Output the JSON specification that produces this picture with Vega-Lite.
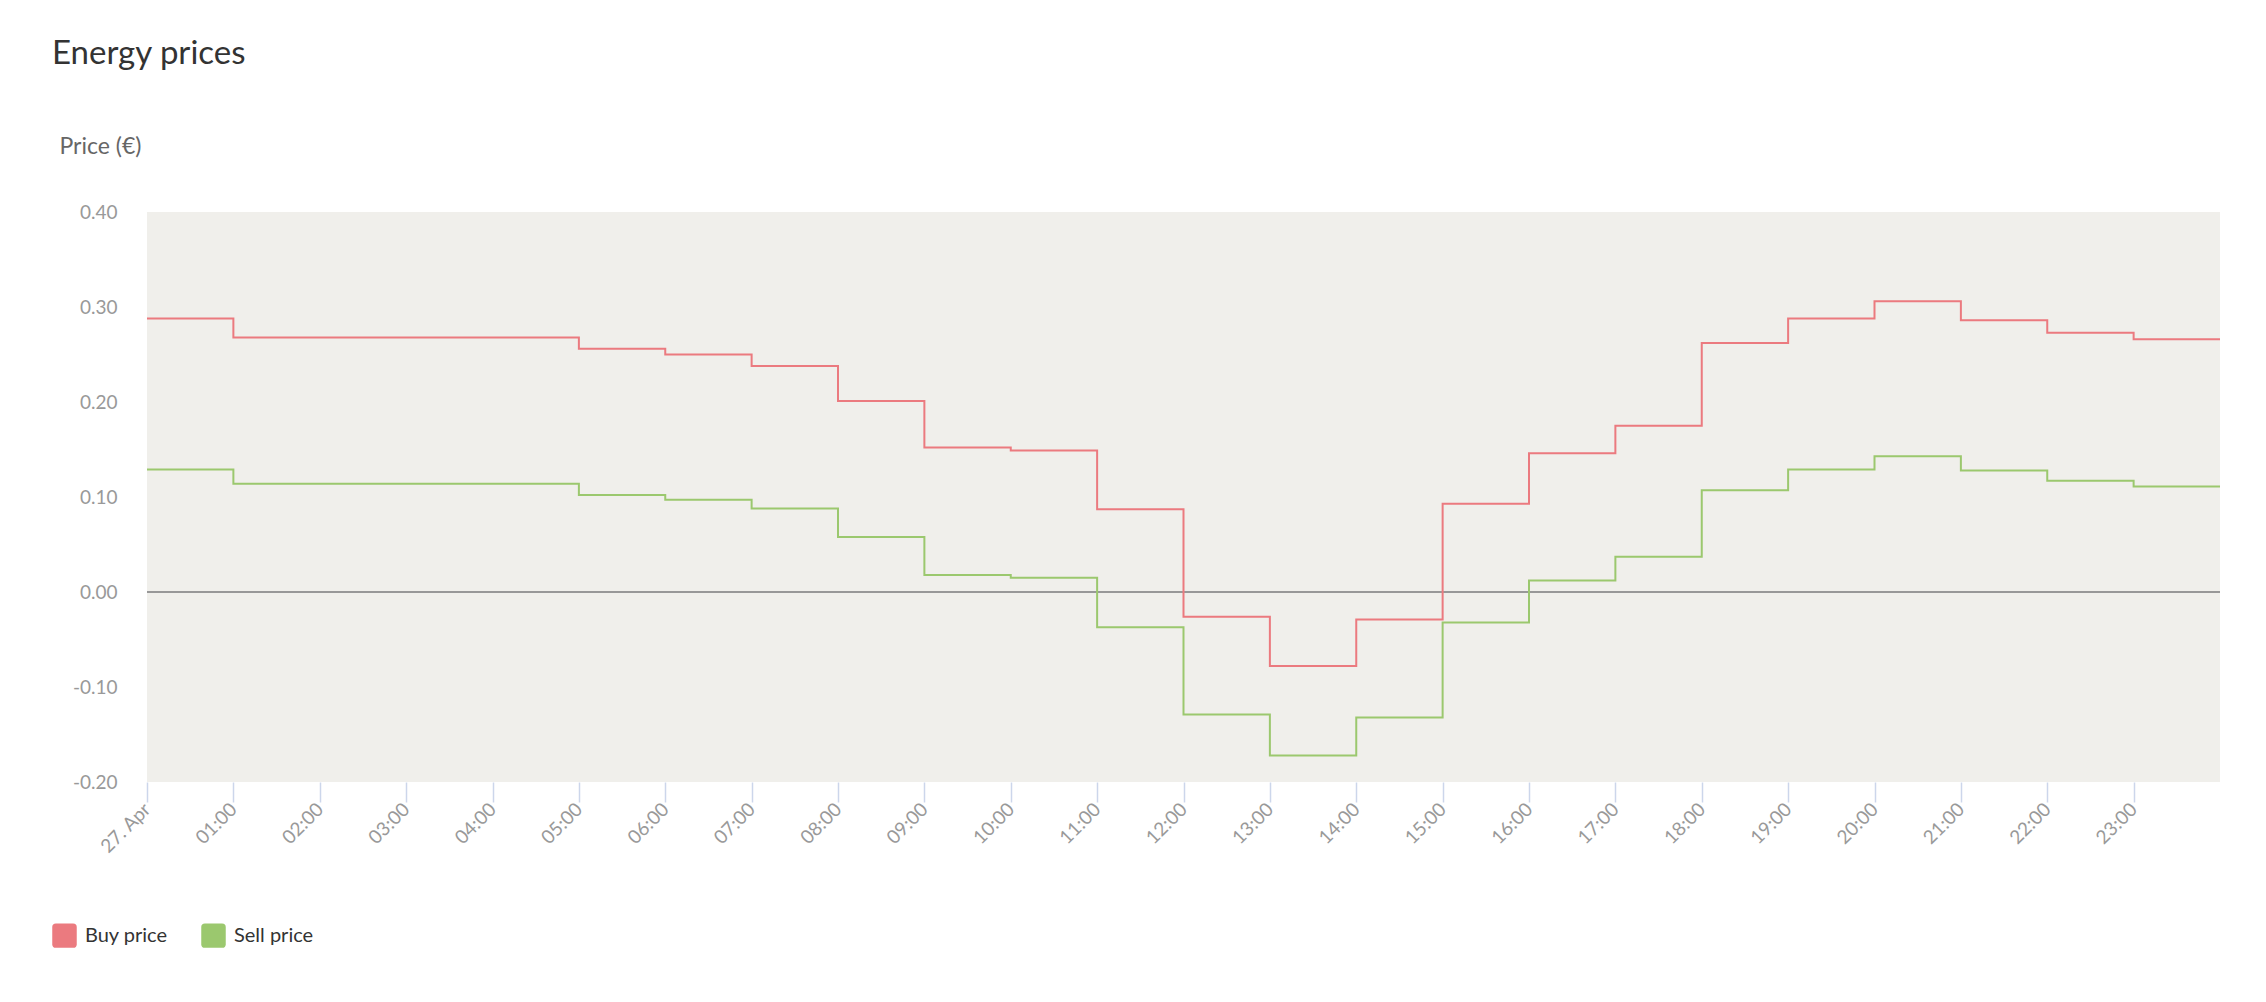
{
  "$schema": "https://vega.github.io/schema/vega-lite/v6.json",
  "autosize": {"type": "none"},
  "padding": {"left": 147, "top": 212, "right": 46, "bottom": 220},
  "width": 2073,
  "height": 570,
  "background": "#ffffff",
  "config": {
    "font": "Lato",
    "view": {"fill": "#f0efeb", "stroke": null}
  },
  "title": {
    "text": "Energy prices",
    "anchor": "start",
    "frame": "bounds",
    "fontSize": 33,
    "fontWeight": "normal",
    "color": "#333333",
    "font": "Lato",
    "offset": 64
  },
  "data": {
    "values": [
      {"hour": 0, "series": "Buy price", "price": 0.288},
      {"hour": 1, "series": "Buy price", "price": 0.268},
      {"hour": 2, "series": "Buy price", "price": 0.268},
      {"hour": 3, "series": "Buy price", "price": 0.268},
      {"hour": 4, "series": "Buy price", "price": 0.268},
      {"hour": 5, "series": "Buy price", "price": 0.256},
      {"hour": 6, "series": "Buy price", "price": 0.250},
      {"hour": 7, "series": "Buy price", "price": 0.238},
      {"hour": 8, "series": "Buy price", "price": 0.201},
      {"hour": 9, "series": "Buy price", "price": 0.152},
      {"hour": 10, "series": "Buy price", "price": 0.149},
      {"hour": 11, "series": "Buy price", "price": 0.087},
      {"hour": 12, "series": "Buy price", "price": -0.026},
      {"hour": 13, "series": "Buy price", "price": -0.078},
      {"hour": 14, "series": "Buy price", "price": -0.029},
      {"hour": 15, "series": "Buy price", "price": 0.093},
      {"hour": 16, "series": "Buy price", "price": 0.146},
      {"hour": 17, "series": "Buy price", "price": 0.175},
      {"hour": 18, "series": "Buy price", "price": 0.262},
      {"hour": 19, "series": "Buy price", "price": 0.288},
      {"hour": 20, "series": "Buy price", "price": 0.306},
      {"hour": 21, "series": "Buy price", "price": 0.286},
      {"hour": 22, "series": "Buy price", "price": 0.273},
      {"hour": 23, "series": "Buy price", "price": 0.266},
      {"hour": 24, "series": "Buy price", "price": 0.266},
      {"hour": 0, "series": "Sell price", "price": 0.129},
      {"hour": 1, "series": "Sell price", "price": 0.114},
      {"hour": 2, "series": "Sell price", "price": 0.114},
      {"hour": 3, "series": "Sell price", "price": 0.114},
      {"hour": 4, "series": "Sell price", "price": 0.114},
      {"hour": 5, "series": "Sell price", "price": 0.102},
      {"hour": 6, "series": "Sell price", "price": 0.097},
      {"hour": 7, "series": "Sell price", "price": 0.088},
      {"hour": 8, "series": "Sell price", "price": 0.058},
      {"hour": 9, "series": "Sell price", "price": 0.018},
      {"hour": 10, "series": "Sell price", "price": 0.015},
      {"hour": 11, "series": "Sell price", "price": -0.037},
      {"hour": 12, "series": "Sell price", "price": -0.129},
      {"hour": 13, "series": "Sell price", "price": -0.172},
      {"hour": 14, "series": "Sell price", "price": -0.132},
      {"hour": 15, "series": "Sell price", "price": -0.032},
      {"hour": 16, "series": "Sell price", "price": 0.012},
      {"hour": 17, "series": "Sell price", "price": 0.037},
      {"hour": 18, "series": "Sell price", "price": 0.107},
      {"hour": 19, "series": "Sell price", "price": 0.129},
      {"hour": 20, "series": "Sell price", "price": 0.143},
      {"hour": 21, "series": "Sell price", "price": 0.128},
      {"hour": 22, "series": "Sell price", "price": 0.117},
      {"hour": 23, "series": "Sell price", "price": 0.111},
      {"hour": 24, "series": "Sell price", "price": 0.111}
    ]
  },
  "layer": [
    {
      "mark": {"type": "rule", "color": "#999999", "strokeWidth": 1.5},
      "encoding": {"y": {"datum": 0, "type": "quantitative"}}
    },
    {
      "mark": {"type": "line", "interpolate": "step-after", "strokeWidth": 2},
      "encoding": {
        "x": {
          "field": "hour",
          "type": "quantitative",
          "scale": {"domain": [0, 24], "nice": false, "zero": false},
          "axis": {
            "title": null,
            "values": [0, 1, 2, 3, 4, 5, 6, 7, 8, 9, 10, 11, 12, 13, 14, 15, 16, 17, 18, 19, 20, 21, 22, 23],
            "labelExpr": "datum.value == 0 ? '27. Apr' : (datum.value < 10 ? '0' : '') + datum.value + ':00'",
            "labelAngle": -45,
            "labelAlign": "right",
            "labelBaseline": "middle",
            "labelFontSize": 19,
            "labelColor": "#999999",
            "labelPadding": 4,
            "labelFont": "Lato",
            "labelOverlap": false,
            "labelFlush": false,
            "grid": false,
            "domain": false,
            "ticks": true,
            "tickColor": "#ccd6eb",
            "tickSize": 20,
            "tickWidth": 1.5
          }
        },
        "y": {
          "field": "price",
          "type": "quantitative",
          "scale": {"domain": [-0.2, 0.4], "nice": false},
          "axis": {
            "title": "Price (€)",
            "titleAngle": 0,
            "titleAlign": "left",
            "titleBaseline": "alphabetic",
            "titleX": -88,
            "titleY": -59,
            "titleFontSize": 23,
            "titleFontWeight": "normal",
            "titleColor": "#666666",
            "titleFont": "Lato",
            "values": [-0.2, -0.1, 0, 0.1, 0.2, 0.3, 0.4],
            "labelExpr": "(datum.value < 0 ? '-' : '') + format(abs(datum.value), '.2f')",
            "labelFontSize": 19,
            "labelColor": "#999999",
            "labelFont": "Lato",
            "labelPadding": 30,
            "ticks": false,
            "domain": false,
            "grid": false
          }
        },
        "color": {
          "field": "series",
          "type": "nominal",
          "scale": {"domain": ["Buy price", "Sell price"], "range": ["#eb7a7f", "#9bc86e"]},
          "legend": {
            "title": null,
            "orient": "none",
            "legendX": -95,
            "legendY": 711,
            "direction": "horizontal",
            "symbolType": "M-1,-0.7Q-1,-1,-0.7,-1L0.7,-1Q1,-1,1,-0.7L1,0.7Q1,1,0.7,1L-0.7,1Q-1,1,-1,0.7Z",
            "symbolSize": 600,
            "labelFontSize": 20,
            "labelColor": "#333333",
            "labelFont": "Lato",
            "labelOffset": 8,
            "columnPadding": 33,
            "encode": {
              "symbols": {
                "update": {
                  "fill": {"scale": "color", "field": "value"},
                  "fillOpacity": {"value": 1},
                  "strokeWidth": {"value": 0},
                  "opacity": {"value": 1}
                }
              }
            }
          }
        }
      }
    }
  ]
}
